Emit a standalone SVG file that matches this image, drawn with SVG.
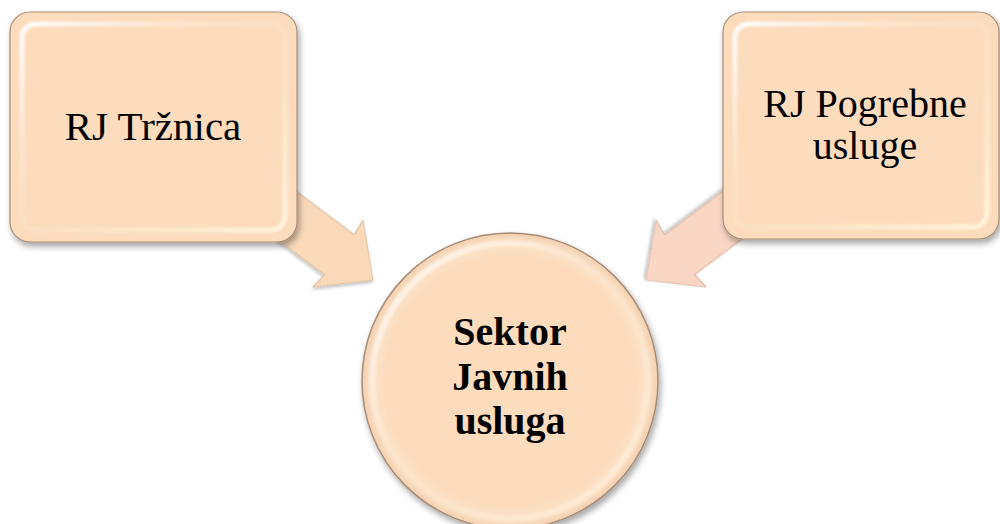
<svg xmlns="http://www.w3.org/2000/svg" width="1000" height="524" viewBox="0 0 1000 524">
<style>
.box{fill:#FCDCBD;stroke:#A88C76;stroke-width:1.2}
.bevel{fill:none;stroke:url(#bevelGrad);stroke-width:5}
.lbl{font-family:"Liberation Serif","Times New Roman",serif;font-size:41px;fill:#000;text-anchor:middle}
.lbl2{font-family:"Liberation Serif","Times New Roman",serif;font-size:40px;fill:#000;text-anchor:middle}
.ctr{font-family:"Liberation Serif","Times New Roman",serif;font-size:40px;font-weight:bold;fill:#000;text-anchor:middle}
.arrowL{fill:#FAD9B9;stroke:#D9B89A;stroke-width:1}
.arrowR{fill:#F9D5C4;stroke:#D9B4A2;stroke-width:1}
</style>
<defs>
<filter id="sh" x="-10%" y="-10%" width="125%" height="125%">
<feDropShadow dx="2" dy="4" stdDeviation="3" flood-color="#000" flood-opacity="0.35"/>
</filter>
<filter id="shA" x="-10%" y="-20%" width="125%" height="140%">
<feDropShadow dx="1" dy="2" stdDeviation="1.5" flood-color="#000" flood-opacity="0.25"/>
</filter>
<filter id="blur"><feGaussianBlur stdDeviation="1.2"/></filter>
<linearGradient id="bevelGrad" x1="0" y1="0" x2="1" y2="1">
<stop offset="0" stop-color="#FFFFFF" stop-opacity="0.95"/>
<stop offset="0.45" stop-color="#FDE6CF" stop-opacity="0.3"/>
<stop offset="1" stop-color="#FFF6DC" stop-opacity="0.95"/>
</linearGradient>
<radialGradient id="circFill" cx="0.5" cy="0.5" r="0.5">
<stop offset="0.85" stop-color="#FCDCBD"/>
<stop offset="0.93" stop-color="#FDE4CB"/>
<stop offset="1" stop-color="#F3CFAF"/>
</radialGradient>
<linearGradient id="circBevel" x1="0" y1="0" x2="1" y2="1">
<stop offset="0" stop-color="#FFFFFF" stop-opacity="0.95"/>
<stop offset="0.5" stop-color="#FDE6CF" stop-opacity="0.15"/>
<stop offset="1" stop-color="#FFF3DA" stop-opacity="0.8"/>
</linearGradient>
</defs>
<rect width="1000" height="524" fill="#FFFFFF"/>
<g id="connectors">
<path class="arrowL" filter="url(#shA)" transform="translate(269,202) rotate(36.87)" d="M0,-25 L88,-25 L86,-42 L130,0 L86,42 L88,25 L0,25 Z"/>
<path class="arrowR" filter="url(#shA)" transform="translate(750,202) rotate(143.13)" d="M0,-25 L88,-25 L86,-42 L130,0 L86,42 L88,25 L0,25 Z"/>
</g>
<g id="node-trznica">
<rect class="box" filter="url(#sh)" x="10" y="12" width="287" height="230" rx="20"/>
<rect class="bevel" filter="url(#blur)" x="22" y="24" width="263" height="206" rx="14"/>
<text class="lbl" x="153" y="140">RJ Tržnica</text>
</g>
<g id="node-pogrebne">
<rect class="box" filter="url(#sh)" x="723" y="12" width="276" height="227" rx="20"/>
<rect class="bevel" filter="url(#blur)" x="735" y="24" width="252" height="203" rx="14"/>
<text class="lbl2" x="865" y="117">RJ Pogrebne</text>
<text class="lbl2" x="865" y="159">usluge</text>
</g>
<g id="node-sektor">
<circle cx="510" cy="381" r="148" fill="url(#circFill)" stroke="#A88C76" stroke-width="1.5" filter="url(#sh)"/>
<circle cx="510" cy="381" r="138" fill="none" stroke="url(#circBevel)" stroke-width="6" filter="url(#blur)"/>
<text class="ctr" x="510" y="345">Sektor</text>
<text class="ctr" x="510" y="390">Javnih</text>
<text class="ctr" x="510" y="434">usluga</text>
</g>
</svg>
